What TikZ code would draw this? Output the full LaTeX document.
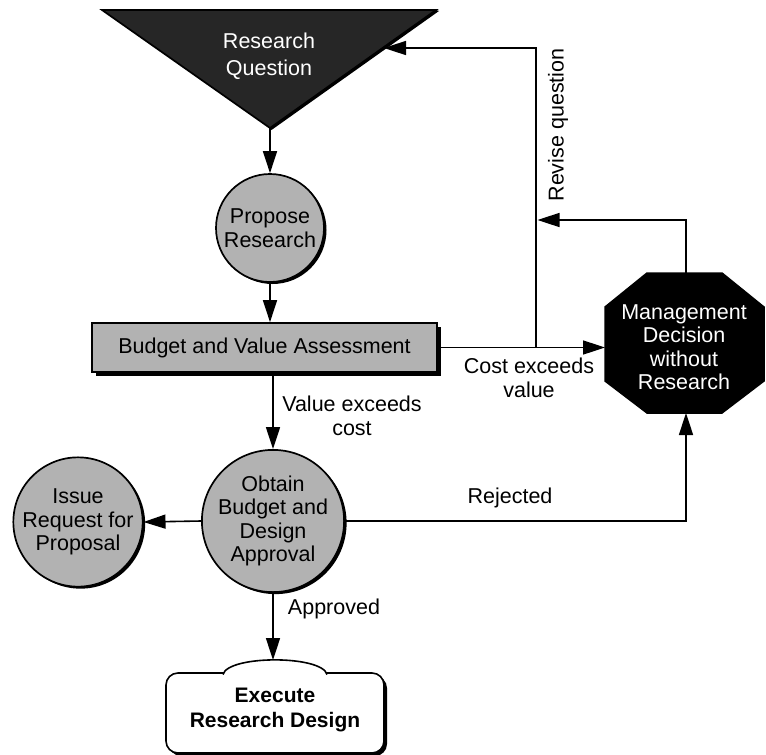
\documentclass[tikz,border=0pt]{standalone}
\usepackage{fontspec}
\setmainfont{Liberation Sans}
\usetikzlibrary{arrows.meta,shadows,calc}
\begin{document}
\begin{tikzpicture}[x=1pt,y=-1pt,
  every node/.style={font=\fontsize{21.5}{23.5}\selectfont, align=center, inner sep=0pt},
  ln/.style={line width=1.6pt},
  arr/.style={ln,-{Triangle[length=22pt,width=14pt]}},
  stip/.style={fill=black!30,draw=black,line width=1.7pt},
  shad/.style={drop shadow={opacity=1,fill=black,shadow xshift=2.5pt,shadow yshift=-2pt}},
  circ/.style={circle,stip,shad,minimum size=#1},
]
\useasboundingbox (0,0) rectangle (766,755);
\fill[white] (0,0) rectangle (766,755);

% Research question triangle
\coordinate (tL) at (102,10);
\coordinate (tR) at (436,10);
\coordinate (apex) at (270,128);
\fill[black] (tR) -- ++(3,1) -- ($(apex)+(1.5,2)$) -- (apex) -- cycle;
\filldraw[fill=black!85,line width=1.7pt] (tL) -- (tR) -- (apex) -- cycle;
\node[text=white,font=\fontsize{21.5}{27}\selectfont] (tri) at (269,56) {Research\\Question};

% circles and box
\node[circ=108pt] (propose) at (270,228) {Propose\\Research};
\node[stip,rectangle,minimum width=345pt,minimum height=49pt,
      drop shadow={opacity=1,fill=black,shadow xshift=4pt,shadow yshift=-4pt}]
      (box) at (264.5,347.5) {Budget and Value Assessment};
\node[circ=128pt] (obtain) at (273,521) {Obtain\\Budget and\\Design\\Approval};
\node[circ=126pt] (issue) at (78,522) {Issue\\Request for\\Proposal};

% octagon
\filldraw[fill=black,line width=1.5pt] (647,273) -- (722,273) -- (764,307) -- (764,381)
  -- (722,413) -- (647,413) -- (605,381) -- (605,307) -- cycle;
\node[text=white] (oct) at (684,347) {Management\\Decision\\without\\Research};
\coordinate (octL) at (605,347.5);
\coordinate (octT) at (686,273);
\coordinate (octB) at (686,413);

% execute shape
\coordinate (execTop) at (275,660);
\fill[black,rounded corners=12pt] (169,676) rectangle (387,756);
\filldraw[fill=white,line width=1.6pt,rounded corners=12pt] (166,673) rectangle (384,753);
\filldraw[fill=white,line width=1.6pt] (223,674.5) .. controls (228,655) and (322,655) .. (327,674.5);
\node[font=\bfseries\fontsize{21}{25}\selectfont] (exec) at (275,710) {Execute\\Research Design};

% connectors
\coordinate (split) at (536,347.5);
\coordinate (triR) at (384,48);
\coordinate (merge) at (537.5,220);
\draw[arr] (apex) -- (propose.north);
\draw[arr] (propose.south) -- (propose.south |- box.north);
\draw[arr] (box.south -| obtain.north) -- (obtain.north);
\draw[arr] (obtain.west) -- (issue.east);
\draw[arr] (obtain.south) -- (obtain.south |- execTop);
\draw[arr] (box.east) -- (octL);
\draw[arr] (split) |- (triR);
\draw[arr] (octT) |- (merge);
\draw[arr] (obtain.east) -| (octB);

% labels
\node[rotate=90] (lrev) at (558,125) {Revise question};
\node (lcost) at (529,378) {Cost exceeds\\value};
\node (lval) at (352,416) {Value exceeds\\cost};
\node (lrej) at (510,498) {Rejected};
\node (lapp) at (334,609) {Approved};
\end{tikzpicture}
\end{document}
